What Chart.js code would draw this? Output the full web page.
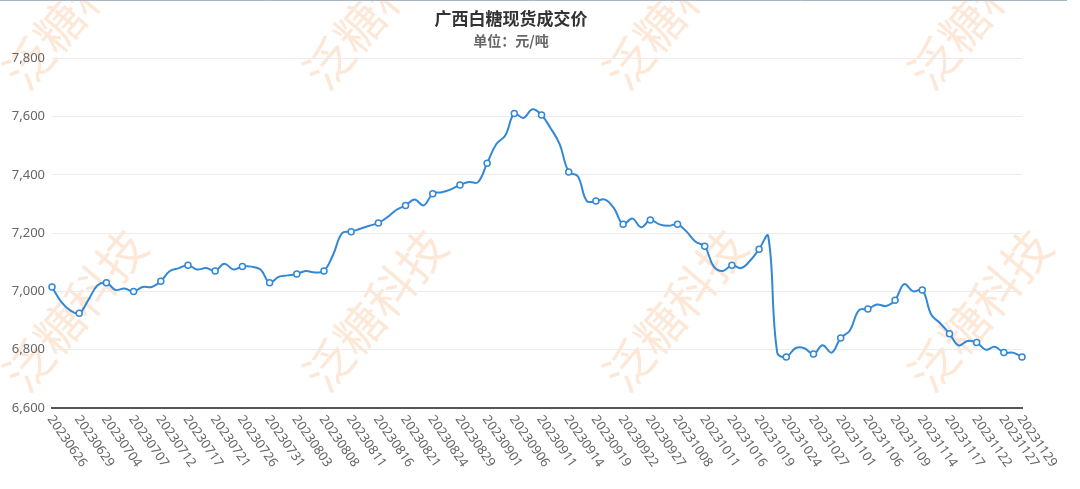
<!DOCTYPE html>
<html lang="zh">
<head>
<meta charset="utf-8">
<title>广西白糖现货成交价</title>
<script src="https://cdn.jsdelivr.net/npm/chart.js@4/dist/chart.umd.min.js"></script>
<style>
  html, body { margin: 0; padding: 0; background: #fff; }
  #wrap { width: 1080px; height: 489px; }
</style>
</head>
<body>
<div id="wrap"><canvas id="myChart" width="1080" height="489"></canvas></div>
<script>
'use strict';

// -------------------- data --------------------
const dates = [
  '20230626', '20230627', '20230628', '20230629', '20230630', '20230703', '20230704', '20230705', '20230706', '20230707',
  '20230710', '20230711', '20230712', '20230713', '20230714', '20230717', '20230718', '20230719', '20230721', '20230724',
  '20230725', '20230726', '20230727', '20230728', '20230731', '20230801', '20230802', '20230803', '20230804', '20230807',
  '20230808', '20230809', '20230810', '20230811', '20230814', '20230815', '20230816', '20230817', '20230818', '20230821',
  '20230822', '20230823', '20230824', '20230825', '20230828', '20230829', '20230830', '20230831', '20230901', '20230904',
  '20230905', '20230906', '20230907', '20230908', '20230911', '20230912', '20230913', '20230914', '20230915', '20230918',
  '20230919', '20230920', '20230921', '20230922', '20230925', '20230926', '20230927', '20230928', '20231007', '20231008',
  '20231009', '20231010', '20231011', '20231012', '20231013', '20231016', '20231017', '20231018', '20231019', '20231020',
  '20231023', '20231024', '20231025', '20231026', '20231027', '20231030', '20231031', '20231101', '20231102', '20231103',
  '20231106', '20231107', '20231108', '20231109', '20231110', '20231113', '20231114', '20231115', '20231116', '20231117',
  '20231120', '20231121', '20231122', '20231123', '20231124', '20231127', '20231128', '20231129'
];

const prices = [
  7015, 6965, 6935, 6925, 6970, 7020, 7030, 7005, 7010, 7000,
  7015, 7015, 7035, 7070, 7080, 7090, 7075, 7080, 7070, 7095,
  7075, 7085, 7085, 7075, 7030, 7050, 7055, 7060, 7070, 7065,
  7070, 7125, 7200, 7205, 7215, 7225, 7235, 7255, 7280, 7295,
  7315, 7295, 7335, 7340, 7350, 7365, 7375, 7375, 7440, 7505,
  7535, 7610, 7595, 7625, 7605, 7560, 7505, 7410, 7395, 7310,
  7310, 7315, 7285, 7230, 7250, 7220, 7245, 7230, 7225, 7230,
  7205, 7170, 7155, 7085, 7070, 7090, 7080, 7105, 7145, 7190,
  6790, 6775, 6805, 6805, 6785, 6815, 6790, 6840, 6865, 6935,
  6940, 6955, 6950, 6970, 7025, 7000, 7005, 6920, 6890, 6855,
  6815, 6830, 6825, 6800, 6810, 6790, 6790, 6775
];

const yTicks = [6600, 6800, 7000, 7200, 7400, 7600, 7800];
const labelEvery = 3;

// -------------------- helpers --------------------
const last = prices.length - 1;
const isShown = i => i % labelEvery === 0 || i === last;

// 背景の透かし文字
const watermark = {
  id: 'watermark',
  beforeDraw(chart) {
    const c = chart.ctx;
    c.save();
    c.fillStyle = 'rgba(250, 185, 130, 0.32)';
    c.font = '48px "Noto Sans CJK SC"';
    c.textAlign = 'center';
    c.textBaseline = 'middle';
    [8, 310].forEach(cy => {
      [75, 375, 675, 980].forEach(cx => {
        c.save();
        c.translate(cx, cy);
        c.rotate(-50 * Math.PI / 180);
        c.fillText('泛糖科技', 0, 0);
        c.restore();
      });
    });
    // 上端の細い線
    c.strokeStyle = '#a9b5c1';
    c.lineWidth = 1;
    c.beginPath();
    c.moveTo(0, 0.5);
    c.lineTo(1067, 0.5);
    c.stroke();
    c.restore();
  }
};

// 斜めの日付ラベル（右下がり）
const dateLabels = {
  id: 'dateLabels',
  afterDraw(chart) {
    const c = chart.ctx;
    const xs = chart.scales.x;
    c.save();
    c.fillStyle = '#666';
    c.font = '13px "Noto Sans"';
    c.textAlign = 'left';
    c.textBaseline = 'middle';
    dates.forEach((d, i) => {
      if (!isShown(i)) return;
      c.save();
      c.translate(xs.getPixelForValue(i) - 2, xs.bottom + 9);
      c.rotate(55 * Math.PI / 180);
      c.fillText(d, 0, 0);
      c.restore();
    });
    c.restore();
  }
};

// -------------------- Chart.js --------------------
{
  const ctx = document.getElementById('myChart').getContext('2d');
  const myChart = new Chart(ctx, {
    type: 'line',
    data: {
      labels: dates,
      datasets: [{
        label: '广西白糖现货成交价',
        data: prices,
        borderColor: '#3388d6',
        borderWidth: 2,
        tension: 0.4,
        fill: false,
        pointRadius: c => isShown(c.dataIndex) ? 3 : 0,
        pointBackgroundColor: '#fff',
        pointBorderColor: '#3388d6',
        pointBorderWidth: 1.5
      }]
    },
    options: {
      responsive: false,
      animation: false,
      layout: {
        padding: {left: 0, right: 58, top: 0, bottom: 81}
      },
      plugins: {
        legend: {display: false},
        tooltip: {enabled: false},
        title: {
          display: true,
          text: '广西白糖现货成交价',
          color: '#333',
          font: {size: 17, weight: 'bold', family: '"Noto Sans CJK SC"'},
          padding: {top: 8, bottom: 2}
        },
        subtitle: {
          display: true,
          text: '单位：元/吨',
          color: '#666',
          font: {size: 14, weight: 'bold', family: '"Noto Sans CJK SC"'},
          padding: {top: 2, bottom: 9}
        }
      },
      scales: {
        x: {
          type: 'category',
          offset: false,
          grid: {display: false, drawTicks: false},
          border: {display: true, color: '#555', width: 2},
          ticks: {display: false}
        },
        y: {
          min: yTicks[0],
          max: yTicks[yTicks.length - 1],
          afterBuildTicks: s => { s.ticks = yTicks.map(v => ({value: v})); },
          afterFit: s => { s.width = 52; },
          grid: {color: '#ececec', drawTicks: false, lineWidth: 1},
          border: {display: false},
          ticks: {
            color: '#666',
            padding: 7,
            font: {size: 13, family: '"Noto Sans"'}
          }
        }
      }
    },
    plugins: [watermark, dateLabels]
  });
}
</script>
</body>
</html>
